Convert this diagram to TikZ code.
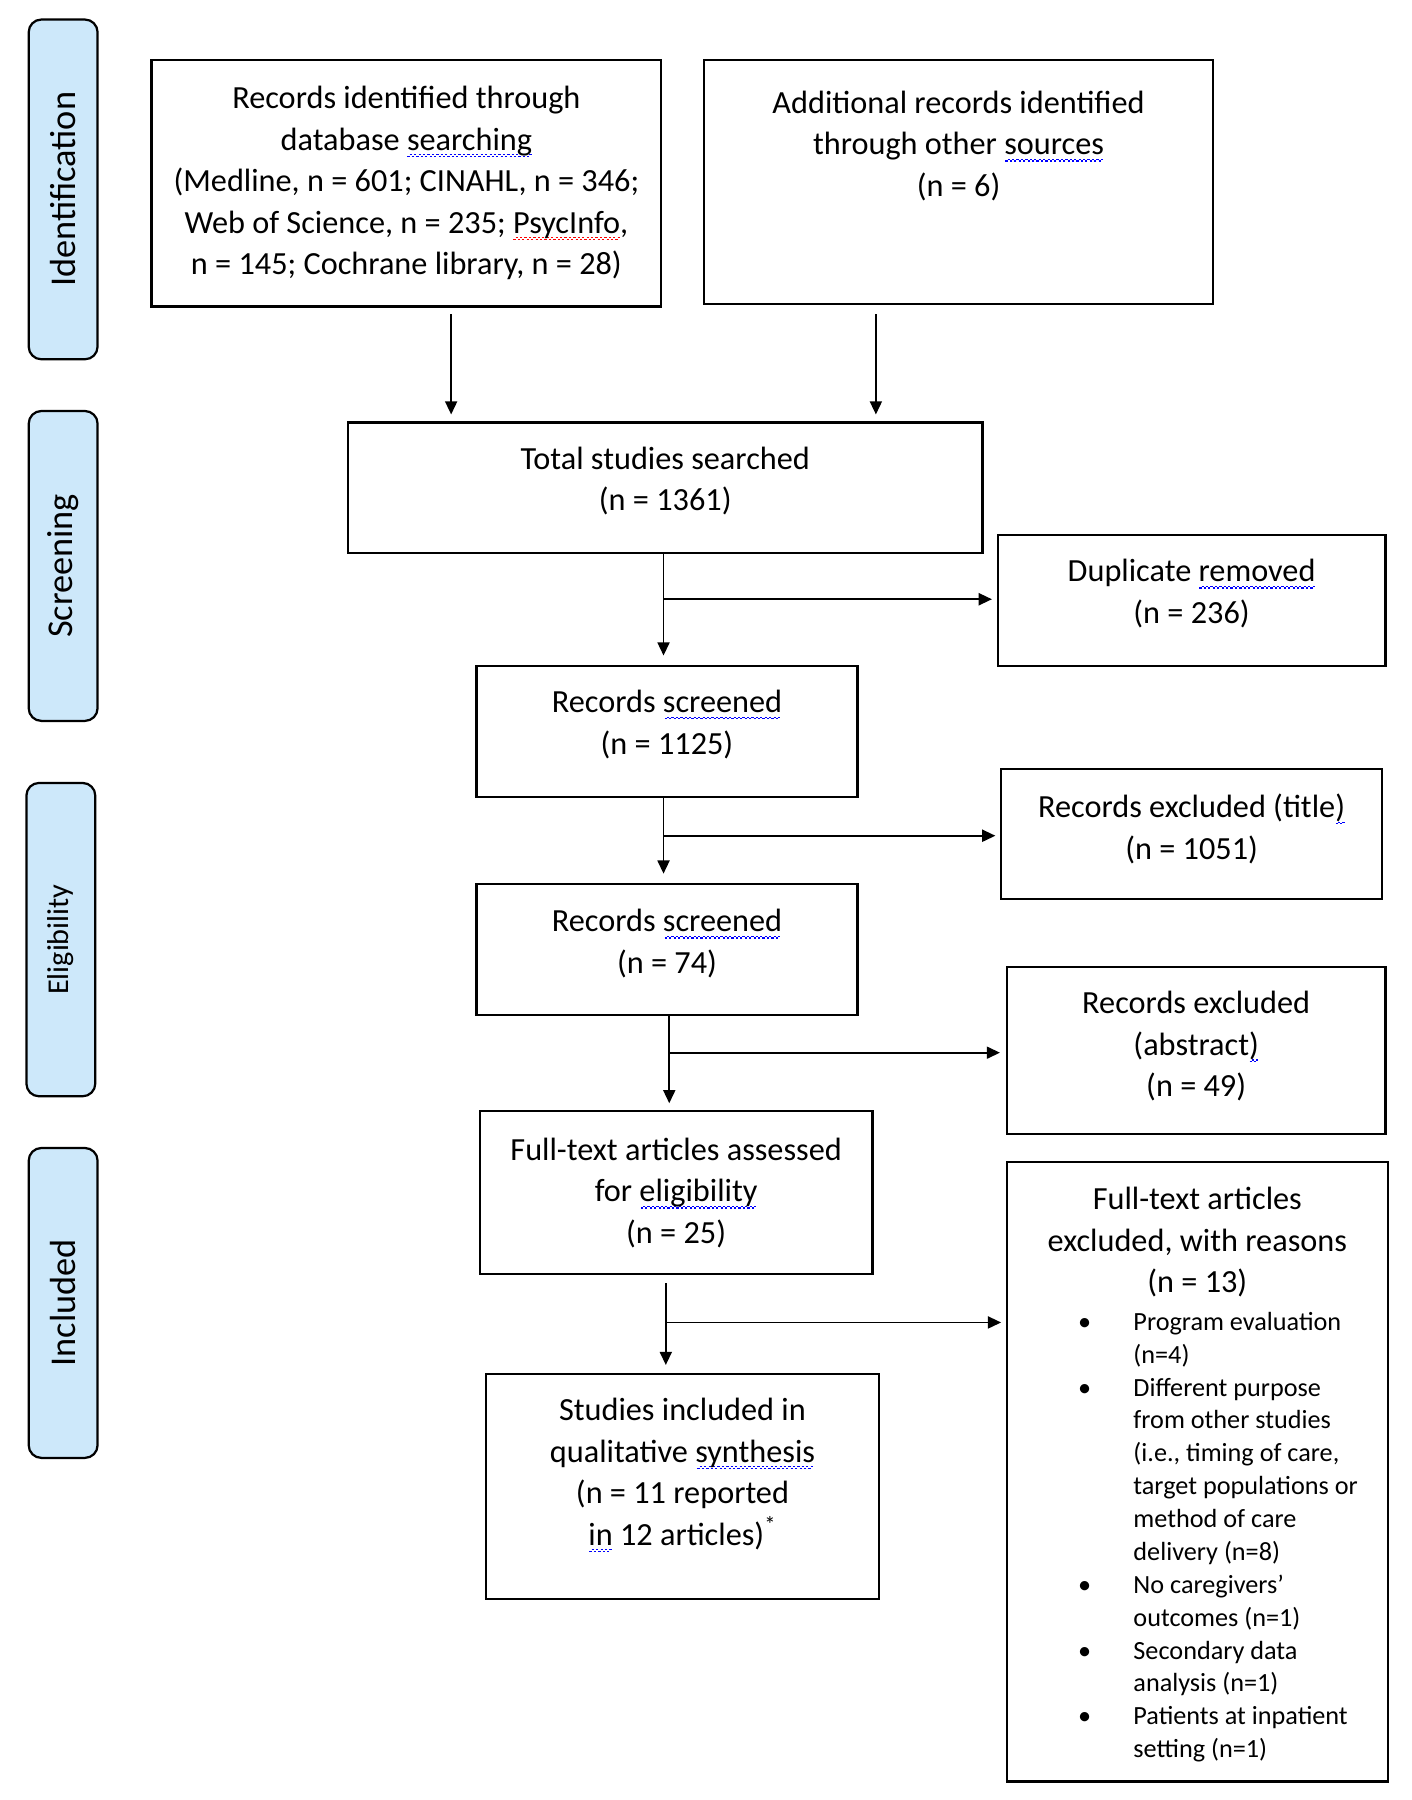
\documentclass[tikz,border=0pt]{standalone}
\usepackage{fontspec}
\setmainfont{Carlito}
\usetikzlibrary{arrows.meta}
\definecolor{lblue}{RGB}{205,232,250}
\newcommand\sqg[2]{\setbox0=\hbox{#2}\rlap{\hbox to \wd0{\color{#1}\cleaders\hbox{\raisebox{-3.4pt}{\rule{1.1pt}{0.6pt}}\raisebox{-2.6pt}{\rule{1.1pt}{0.6pt}}}\hfill}}\box0\relax}
\newcommand\bsq[1]{\sqg{blue}{#1}}
\newcommand\rsq[1]{\sqg{red}{#1}}
\newcommand\bul{\llap{\textbullet\hspace{21pt}}}
\begin{document}
\begin{tikzpicture}[x=0.02cm,y=-0.02cm,
  box/.style={draw=black, line width=1.1pt, inner sep=0pt},
  lab/.style={draw=black, line width=1.1pt, fill=lblue, rounded corners=0.22cm, rotate=90, inner sep=0pt, minimum height=1.2cm, font=\fontsize{18}{20}\selectfont},
  txt/.style={align=center, inner sep=0pt, font=\fontsize{16}{20.6}\selectfont},
  arr/.style={line width=0.9pt, -{Triangle[width=0.21cm,length=0.23cm]}},
]
\fill[white] (0,0) rectangle (1230,1568);
\useasboundingbox (0,0) rectangle (1230,1568);

% phase labels
\node[lab, minimum width=5.92cm] (lid) at (55,165) {Identification};
\node[lab, minimum width=5.4cm] (lsc) at (55,493) {Screening};
\node[lab, minimum width=5.46cm, font=\fontsize{15}{17}\selectfont] (lel) at (53,818.5) {Eligibility};
\node[lab, minimum width=5.4cm] (lin) at (55,1135) {Included};

% boxes
\node[box, minimum width=8.88cm, minimum height=4.3cm] (b1) at (354,159.5) {};
\node[txt] (b1t) at (354,159.5) {Records identified through\\ database \bsq{searching}\\ (Medline, n = 601; CINAHL, n = 346;\\ Web of Science, n = 235; \rsq{PsycInfo},\\ n = 145; Cochrane library, n = 28)};

\node[box, minimum width=8.88cm, minimum height=4.26cm] (b2) at (835,158.5) {};
\node[txt] (b2t) at (835,127) {Additional records identified\\ through other \bsq{sources}\\ (n = 6)};

\node[box, minimum width=11.06cm, minimum height=2.28cm] (tot) at (579.5,425) {};
\node[txt] (tott) at (579.5,419) {Total studies searched\\ (n = 1361)};

\node[box, minimum width=6.76cm, minimum height=2.28cm] (dup) at (1038,523) {};
\node[txt] (dupt) at (1038,517) {Duplicate \bsq{removed}\\ (n = 236)};

\node[box, minimum width=6.64cm, minimum height=2.28cm] (rs1) at (581,637) {};
\node[txt] (rs1t) at (581,631) {Records \bsq{screened}\\ (n = 1125)};

\node[box, minimum width=6.64cm, minimum height=2.26cm] (tit) at (1038,726.5) {};
\node[txt] (titt) at (1038,722) {Records excluded (title\bsq{)}\\ (n = 1051)};

\node[box, minimum width=6.64cm, minimum height=2.28cm] (rs2) at (581,827) {};
\node[txt] (rs2t) at (581,822) {Records \bsq{screened}\\ (n = 74)};

\node[box, minimum width=6.6cm, minimum height=2.92cm] (abs) at (1042,915) {};
\node[txt] (abst) at (1042,911.5) {Records excluded\\ (abstract\bsq{)}\\ (n = 49)};

\node[box, minimum width=6.84cm, minimum height=2.84cm] (ft) at (589,1039) {};
\node[txt] (ftt) at (589,1039) {Full-text articles assessed\\ for \bsq{eligibility}\\ (n = 25)};

\node[box, minimum width=6.64cm, minimum height=10.8cm] (fte) at (1043,1282) {};
\node[txt] (ftet) at (1043,1082) {Full-text articles\\ excluded, with reasons\\ (n = 13)};
\node[anchor=west, align=left, inner sep=0pt, font=\fontsize{13}{16.3}\selectfont] (reasons) at (987,1339) {\bul Program evaluation\\ (n=4)\\ \bul Different purpose\\ from other studies\\ (i.e., timing of care,\\ target populations or\\ method of care\\ delivery (n=8)\\ \bul No caregivers’\\ outcomes (n=1)\\ \bul Secondary data\\ analysis (n=1)\\ \bul Patients at inpatient\\ setting (n=1)};

\node[box, minimum width=6.86cm, minimum height=3.92cm] (inc) at (594.5,1295) {};
\node[txt] (inct) at (594.5,1285) {Studies included in\\ qualitative \bsq{synthesis}\\ (n = 11 reported\\ \bsq{in} 12 articles)\textsuperscript{*}};

% connectors
\coordinate (x1) at (393,0);
\coordinate (x2) at (763,0);
\draw[arr, shorten <=0.12cm, shorten >=0.12cm] (x1 |- b1.south) -- (x1 |- tot.north);
\draw[arr, shorten <=0.16cm, shorten >=0.12cm] (x2 |- b2.south) -- (x2 |- tot.north);

\coordinate (f1) at (578,522);
\draw[arr, shorten >=0.16cm] (f1 |- tot.south) -- (f1 |- rs1.north);
\draw[arr, shorten >=0.08cm] (f1) -- (f1 -| dup.west);

\coordinate (f2) at (578,728);
\draw[arr, shorten >=0.16cm] (f2 |- rs1.south) -- (f2 |- rs2.north);
\draw[arr, shorten >=0.08cm] (f2) -- (f2 -| tit.west);

\coordinate (f3) at (583,917);
\draw[arr, shorten >=0.12cm] (f3 |- rs2.south) -- (f3 |- ft.north);
\draw[arr, shorten >=0.1cm] (f3) -- (f3 -| abs.west);

\coordinate (f4) at (580,1152);
\draw[arr, shorten <=0.14cm, shorten >=0.14cm] (f4 |- ft.south) -- (f4 |- inc.north);
\draw[arr, shorten >=0.08cm] (f4) -- (f4 -| fte.west);
\end{tikzpicture}
\end{document}
